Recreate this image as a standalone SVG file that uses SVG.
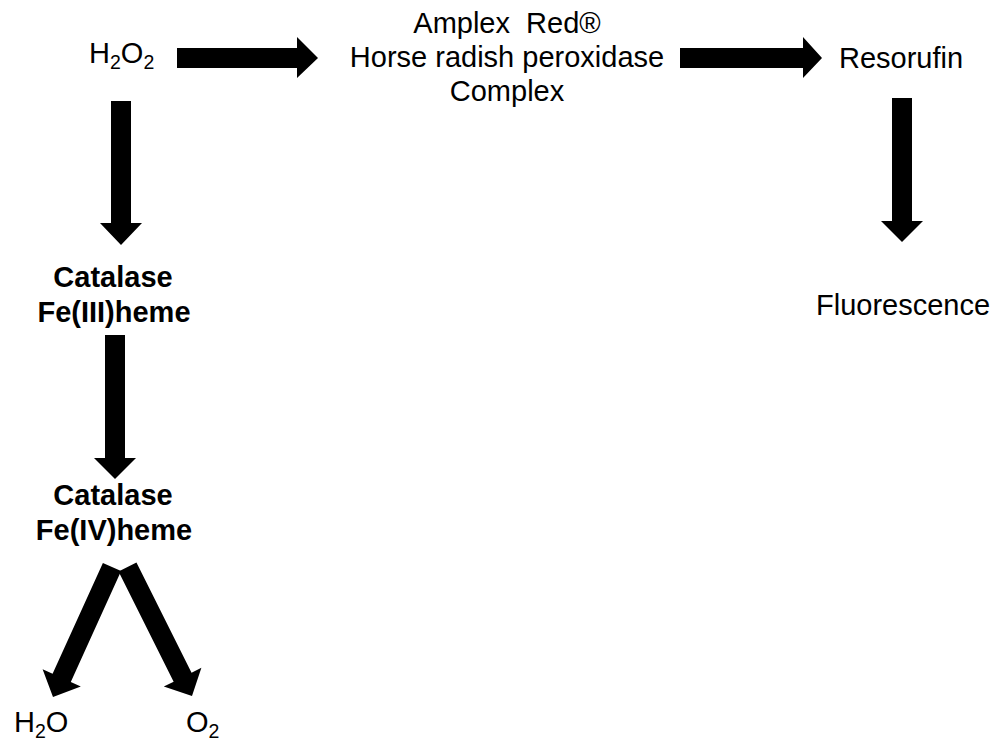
<svg xmlns="http://www.w3.org/2000/svg" width="1006" height="744" viewBox="0 0 1006 744">
<style>
text{font-family:"Liberation Sans",Arial,sans-serif;font-size:29px;fill:#000}
.b{font-weight:bold}
.m{text-anchor:middle}
.sub{font-size:19.5px}
.arrow{fill:#000}
</style>
<rect width="1006" height="744" fill="#fff"/>
<g id="connectors">
<polygon class="arrow" points="177,48 297,48 297,37 318,58 297,78 297,68 177,68"/>
<polygon class="arrow" points="680,48 803,48 803,37 822,58 803,78 803,68 680,68"/>
<polygon class="arrow" points="111,101 131,101 131,223 142,223 121,245 100,223 111,223"/>
<polygon class="arrow" points="105,335 125,335 125,458 136,458 115,479 94,458 105,458"/>
<polygon class="arrow" points="892,98 912,98 912,221 923,221 902,242 881,221 892,221"/>
<polygon class="arrow" points="102.9,562.9 52.6,673.8 42.6,669.2 53,697 80.8,686.6 70.8,682 121.1,571.1"/>
<polygon class="arrow" points="136.45,562.5 191.55,672.7 201.4,667.8 192,696 163.8,686.6 173.65,681.7 118.55,571.5"/>
</g>
<g id="h2o2"><text x="89" y="63">H<tspan class="sub" dy="6">2</tspan><tspan dy="-6">O</tspan><tspan class="sub" dy="6">2</tspan></text></g>
<g id="amplex">
<text class="m" x="507" y="33" style="white-space:pre">Amplex  Red®</text>
<text class="m" x="507" y="67">Horse radish peroxidase</text>
<text class="m" x="507" y="101">Complex</text>
</g>
<g id="resorufin"><text x="839" y="68">Resorufin</text></g>
<g id="fluorescence"><text x="816" y="315">Fluorescence</text></g>
<g id="catalase3">
<text class="b m" x="113" y="287">Catalase</text>
<text class="b m" x="114" y="322">Fe(III)heme</text>
</g>
<g id="catalase4">
<text class="b m" x="113" y="505">Catalase</text>
<text class="b m" x="114" y="540">Fe(IV)heme</text>
</g>
<g id="h2o"><text x="14" y="732">H<tspan class="sub" dy="6">2</tspan><tspan dy="-6">O</tspan></text></g>
<g id="o2"><text x="186" y="732">O<tspan class="sub" dy="6">2</tspan></text></g>
</svg>
